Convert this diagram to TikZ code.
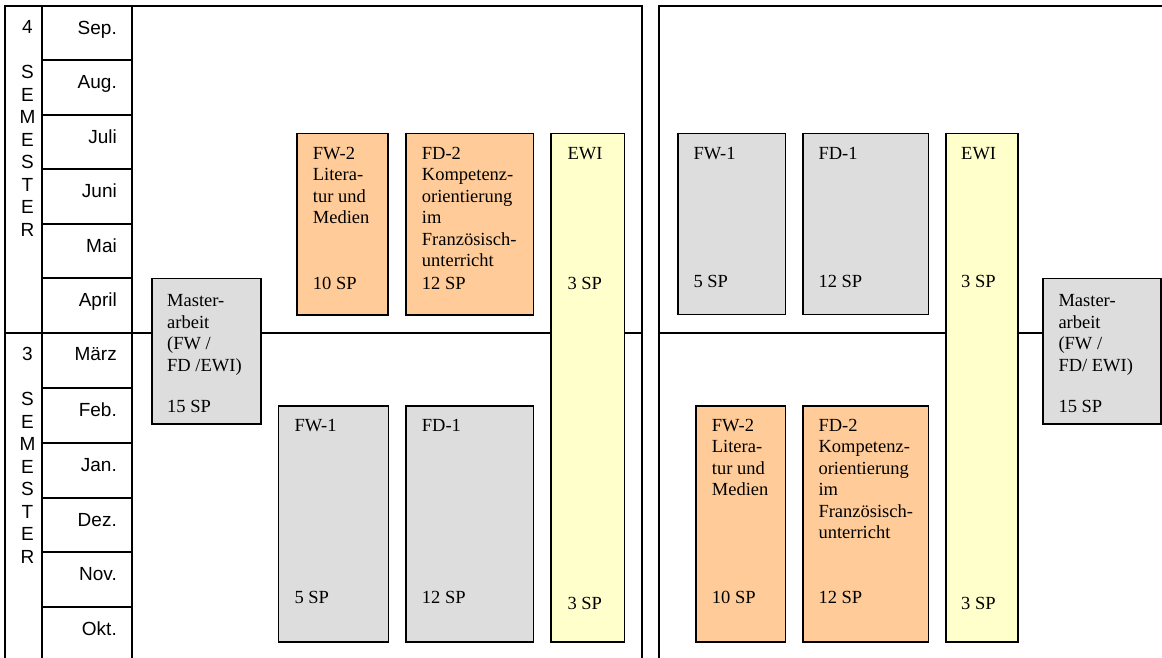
\documentclass[tikz,border=0pt]{standalone}
\usepackage{fontspec}
\setmainfont{Liberation Serif}
\setsansfont{Liberation Sans}
\definecolor{peach}{HTML}{FFCC99}
\definecolor{paleyellow}{HTML}{FFFFCC}
\definecolor{boxgray}{HTML}{DDDDDD}
\tikzset{
  tableline/.style={line width=1.8pt, line cap=rect},
  modbox/.style={draw, line width=1.6pt, inner sep=0pt, outer sep=0pt, anchor=north west},
  btxt/.style={anchor=base west, inner sep=0pt, font=\fontsize{18.5}{21.5}\selectfont},
  mtxt/.style={anchor=base east, inner sep=0pt, font=\sffamily\fontsize{19}{22.5}\selectfont},
  stxt/.style={anchor=base, inner sep=0pt, font=\sffamily\fontsize{19}{22.5}\selectfont},
}
\newcommand{\mylines}[1]{\begin{tabular}[t]{@{}l@{}}#1\end{tabular}}
\newcommand{\mycol}[1]{\begin{tabular}[t]{@{}c@{}}#1\end{tabular}}
\begin{document}
\begin{tikzpicture}[x=1pt,y=-1pt]
\useasboundingbox (0,0) rectangle (1162,657);
% ---- left table and panel lines
\draw[tableline] (5,657) -- (5,6) -- (642,6) -- (642,657);
\draw[tableline] (42,6) -- (42,657);
\draw[tableline] (132,6) -- (132,657);
\draw[tableline] (5,333) -- (642,333);
\foreach \yy in {60,115,169,224,278,388,443,498,552,607}
  \draw[tableline] (42,\yy) -- (132,\yy);
% ---- right panel lines
\draw[tableline] (659,657) -- (659,6) -- (1164,6);
\draw[tableline] (659,333) -- (1164,333);
% ---- semester column
\node[stxt] (sem4) at (27.5,33.8) {\mycol{4\\ \\S\\E\\M\\E\\S\\T\\E\\R}};
\node[stxt] (sem3) at (27.5,360.5) {\mycol{3\\ \\S\\E\\M\\E\\S\\T\\E\\R}};
% ---- months
\node[mtxt] (m1) at (117,34) {Sep.};
\node[mtxt] (m2) at (117,88) {Aug.};
\node[mtxt] (m3) at (117,143) {Juli};
\node[mtxt] (m4) at (117,197) {Juni};
\node[mtxt] (m5) at (117,252) {Mai};
\node[mtxt] (m6) at (117,306) {April};
\node[mtxt] (m7) at (117,360) {März};
\node[mtxt] (m8) at (117,416) {Feb.};
\node[mtxt] (m9) at (117,471) {Jan.};
\node[mtxt] (m10) at (117,526) {Dez.};
\node[mtxt] (m11) at (117,580) {Nov.};
\node[mtxt] (m12) at (117,635) {Okt.};
% ---- left panel boxes
\node[modbox, fill=boxgray, minimum width=109pt, minimum height=145.7pt] (maL) at (151.7,278.3) {};
\node[modbox, fill=peach, minimum width=91.3pt, minimum height=181.7pt] (fw2L) at (296.7,133.3) {};
\node[modbox, fill=peach, minimum width=127.6pt, minimum height=181.7pt] (fd2L) at (405.7,133.3) {};
\node[modbox, fill=paleyellow, minimum width=73.3pt, minimum height=508.4pt] (ewiL) at (551,133.3) {};
\node[modbox, fill=boxgray, minimum width=110pt, minimum height=235.7pt] (fw1L) at (278.3,406) {};
\node[modbox, fill=boxgray, minimum width=127.6pt, minimum height=235.7pt] (fd1L) at (405.7,406) {};
% ---- right panel boxes
\node[modbox, fill=boxgray, minimum width=107.6pt, minimum height=181pt] (fw1R) at (677.7,133.3) {};
\node[modbox, fill=boxgray, minimum width=125.6pt, minimum height=181pt] (fd1R) at (802.7,133.3) {};
\node[modbox, fill=paleyellow, minimum width=72pt, minimum height=508.7pt] (ewiR) at (945.7,133.3) {};
\node[modbox, fill=boxgray, minimum width=118pt, minimum height=145.7pt] (maR) at (1042.7,278.3) {};
\node[modbox, fill=peach, minimum width=89.6pt, minimum height=236pt] (fw2R) at (695.7,406) {};
\node[modbox, fill=peach, minimum width=125.6pt, minimum height=236pt] (fd2R) at (802.7,406) {};
% ---- left panel texts
\node[btxt] (maLt) at (167,306.7) {\mylines{Master-\\arbeit\\(FW /\\FD /EWI)}};
\node[btxt] (maLs) at (167,412.7) {15 SP};
\node[btxt] (fw2Lt) at (312.7,159.4) {\mylines{FW-2\\Litera-\\tur und\\Medien}};
\node[btxt] (fw2Ls) at (312.7,289.3) {10 SP};
\node[btxt] (fd2Lt) at (421.7,159.4) {\mylines{FD-2\\Kompetenz-\\orientierung\\im\\Französisch-\\unterricht}};
\node[btxt] (fd2Ls) at (421.7,289.3) {12 SP};
\node[btxt] (ewiLt) at (567.3,159.4) {EWI};
\node[btxt] (ewiLs) at (567.3,289.3) {3 SP};
\node[btxt] (ewiLb) at (567.3,609) {3 SP};
\node[btxt] (fw1Lt) at (294.3,431) {FW-1};
\node[btxt] (fw1Ls) at (294.3,603) {5 SP};
\node[btxt] (fd1Lt) at (421.7,431) {FD-1};
\node[btxt] (fd1Ls) at (421.7,603) {12 SP};
% ---- right panel texts
\node[btxt] (fw1Rt) at (693.3,159.3) {FW-1};
\node[btxt] (fw1Rs) at (693.3,287.7) {5 SP};
\node[btxt] (fd1Rt) at (818.3,159.3) {FD-1};
\node[btxt] (fd1Rs) at (818.3,287.7) {12 SP};
\node[btxt] (ewiRt) at (961,159.3) {EWI};
\node[btxt] (ewiRs) at (961,287.7) {3 SP};
\node[btxt] (ewiRb) at (961,609) {3 SP};
\node[btxt] (maRt) at (1058.3,306.7) {\mylines{Master-\\arbeit\\(FW /\\FD/ EWI)}};
\node[btxt] (maRs) at (1058.3,412.7) {15 SP};
\node[btxt] (fw2Rt) at (711.7,431) {\mylines{FW-2\\Litera-\\tur und\\Medien}};
\node[btxt] (fw2Rs) at (711.7,603.3) {10 SP};
\node[btxt] (fd2Rt) at (818.3,431) {\mylines{FD-2\\Kompetenz-\\orientierung\\im\\Französisch-\\unterricht}};
\node[btxt] (fd2Rs) at (818.3,603) {12 SP};
\end{tikzpicture}
\end{document}
